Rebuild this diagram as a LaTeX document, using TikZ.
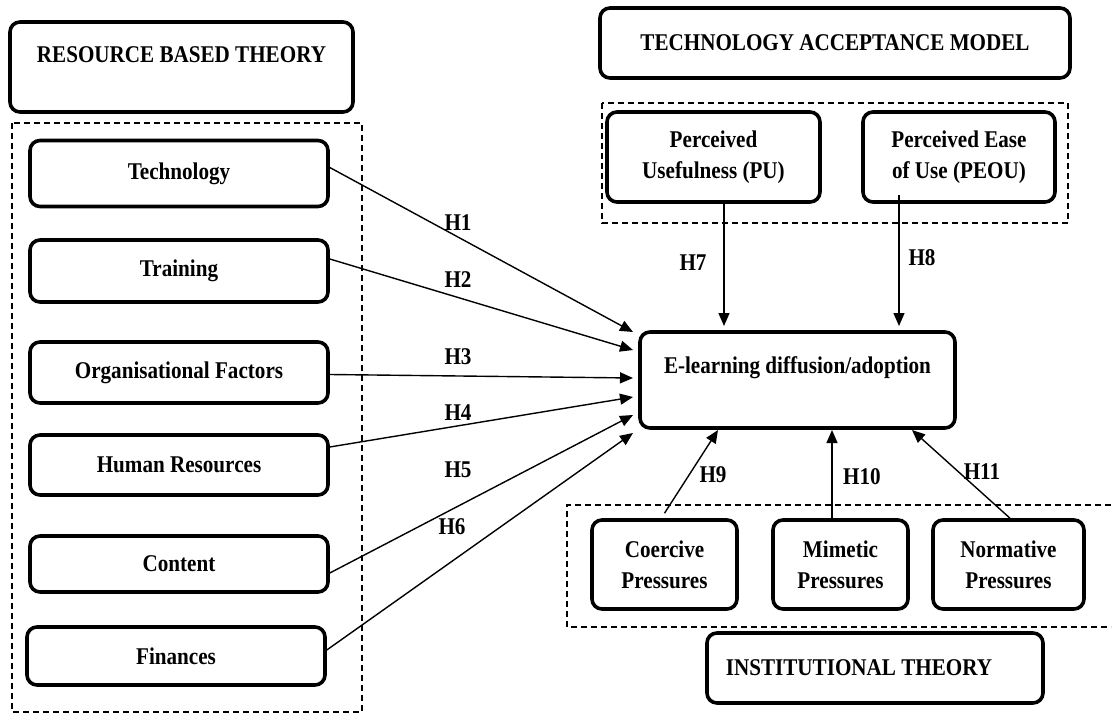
\documentclass[tikz,border=0pt]{standalone}
\usepackage{fontspec}
\setmainfont[FakeStretch=0.88]{Liberation Serif}
\usetikzlibrary{arrows.meta}
\begin{document}
\begin{tikzpicture}[x=1pt,y=-1pt,
 box/.style={draw, line width=3.6pt, rounded corners=10pt, align=center, font=\bfseries\fontsize{24}{31}\selectfont, inner sep=0pt},
 grp/.style={draw, line width=1.5pt, dash pattern=on 6pt off 4pt},
 arr/.style={line width=1.4pt, -{Triangle[length=13pt,width=11pt]}},
 hlab/.style={font=\bfseries\fontsize{24}{28}\selectfont, inner sep=0pt}]
\useasboundingbox (0,0) rectangle (1112,715);

% group frames
\draw[grp] (12,123) rectangle (362,712);
\draw[grp] (602,103) rectangle (1068,223);
\draw[grp] (1111,505) -- (567,505) -- (567,627) -- (1111,627);

% titles
\node[box, minimum width=343pt, minimum height=90pt,
  label={[hlab, yshift=12pt]center:RESOURCE BASED THEORY}] (rbt) at (181.5,67) {};
\node[box, minimum width=470pt, minimum height=70pt] (tam) at (835,43) {TECHNOLOGY ACCEPTANCE MODEL};
\node[box, minimum width=336pt, minimum height=70pt,
  label={[hlab, xshift=-16pt]center:INSTITUTIONAL THEORY}] (inst) at (875,668) {};

% resource boxes
\node[box, minimum width=298pt, minimum height=66pt] (tech) at (179,173.5) {Technology};
\node[box, minimum width=298pt, minimum height=62pt] (train) at (179,271) {Training};
\node[box, minimum width=298pt, minimum height=61pt] (org) at (179,372.5) {Organisational Factors};
\node[box, minimum width=298pt, minimum height=60pt] (hr) at (179,465) {Human Resources};
\node[box, minimum width=298pt, minimum height=56pt] (cont) at (179,564) {Content};
\node[box, minimum width=298pt, minimum height=58pt] (fin) at (176,656) {Finances};

% TAM boxes
\node[box, minimum width=213pt, minimum height=90pt] (pu) at (713.5,157) {Perceived\\Usefulness (PU)};
\node[box, minimum width=192pt, minimum height=90pt] (peou) at (959,157) {Perceived Ease\\of Use (PEOU)};

% central box
\node[box, minimum width=315pt, minimum height=96pt,
  label={[hlab, yshift=12pt]center:E-learning diffusion/adoption}] (el) at (797.5,380) {};

% institutional boxes
\node[box, minimum width=145pt, minimum height=89pt] (coer) at (664.5,564.5) {Coercive\\Pressures};
\node[box, minimum width=135pt, minimum height=89pt] (mim) at (840.5,564.5) {Mimetic\\Pressures};
\node[box, minimum width=151pt, minimum height=89pt] (norm) at (1008.5,564.5) {Normative\\Pressures};

% arrow end points
\coordinate (e1) at (633,332);
\coordinate (e2) at (633,350);
\coordinate (e3) at (633,378);
\coordinate (e4) at (633,397);
\coordinate (e5) at (633,415);
\coordinate (e6) at (633,433);
\coordinate (e7) at (724,326);
\coordinate (e8) at (899,326);
\coordinate (e9) at (718,430);
\coordinate (e10) at (832,430);
\coordinate (e11) at (912,430);

\draw[arr] ([yshift=6pt]tech.east) -- (e1);
\draw[arr] ([yshift=12pt]train.east) -- (e2);
\draw[arr] ([yshift=-2pt]org.east) -- (e3);
\draw[arr] ([yshift=18pt]hr.east) -- (e4);
\draw[arr] ([yshift=-9pt]cont.east) -- (e5);
\draw[arr] ([yshift=6pt]fin.east) -- (e6);
\draw[arr] ([xshift=10.5pt]pu.south) -- (e7);
\draw[arr] ([xshift=-60pt,yshift=9pt]peou.south) -- (e8);
\draw[arr] ([yshift=5pt]coer.north) -- (e9);
\draw[arr] ([xshift=-8.5pt]mim.north) -- (e10);
\draw[arr] ([xshift=1.5pt]norm.north) -- (e11);

% hypothesis labels
\node[hlab] (h1) at (458,223) {H1};
\node[hlab] (h2) at (458,280) {H2};
\node[hlab] (h3) at (458,357) {H3};
\node[hlab] (h4) at (458,413) {H4};
\node[hlab] (h5) at (458,470) {H5};
\node[hlab] (h6) at (452,527) {H6};
\node[hlab] (h7) at (693,263) {H7};
\node[hlab] (h8) at (922,258) {H8};
\node[hlab] (h9) at (713,475) {H9};
\node[hlab] (h10) at (862,477) {H10};
\node[hlab] (h11) at (982,472) {H11};
\end{tikzpicture}
\end{document}
